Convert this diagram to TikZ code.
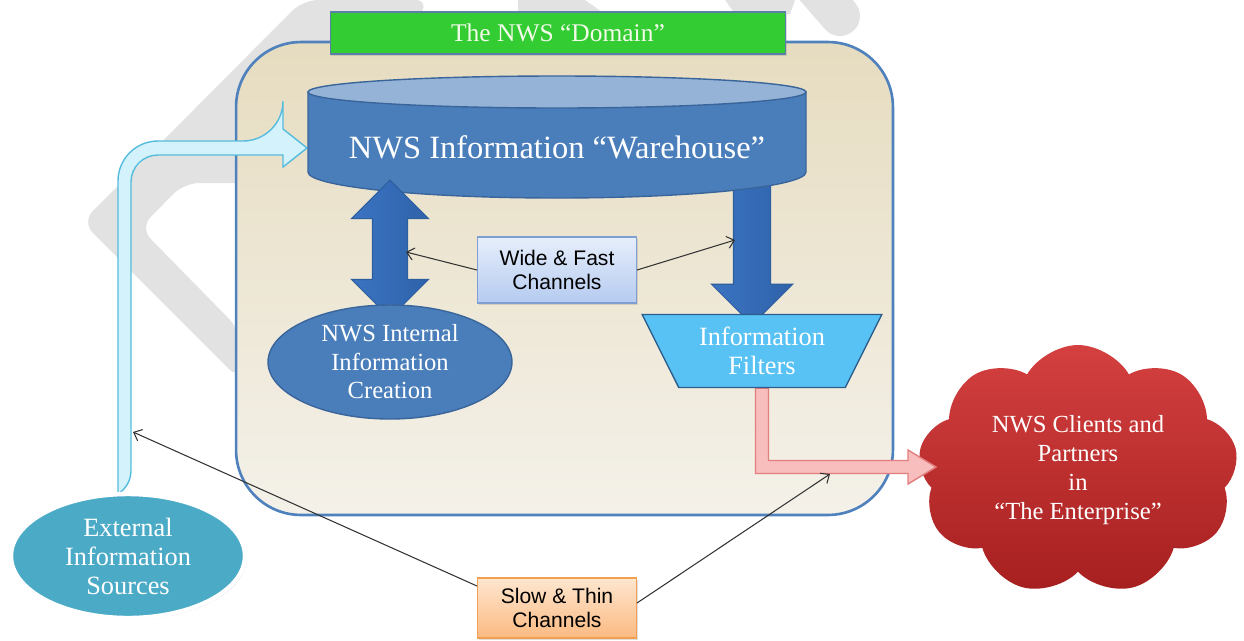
\documentclass[tikz,border=0pt]{standalone}
\usepackage{fontspec}
\setmainfont{Liberation Serif}
\setsansfont{Liberation Sans}
\usetikzlibrary{shapes.geometric,shapes.arrows,shapes.symbols,arrows.meta,calc,shadows}
\definecolor{wm}{HTML}{E2E2E2}
\definecolor{dboxTop}{HTML}{E6DCC0}
\definecolor{dboxBot}{HTML}{F4F1E9}
\definecolor{dboxLine}{HTML}{4F81BD}
\definecolor{domGreen}{HTML}{33CC33}
\definecolor{domLine}{HTML}{5B7FA8}
\definecolor{domText}{HTML}{F2FAE8}
\definecolor{cylBody}{HTML}{4A7EBB}
\definecolor{cylTop}{HTML}{95B3D7}
\definecolor{cylLine}{HTML}{3A659B}
\definecolor{arrLight}{HTML}{6A9FE2}
\definecolor{arrMid}{HTML}{3C74C2}
\definecolor{arrDark}{HTML}{2E62AA}
\definecolor{arrLine}{HTML}{2D5E9E}
\definecolor{wfTop}{HTML}{E6EEFB}
\definecolor{wfBot}{HTML}{B5CBF0}
\definecolor{wfLine}{HTML}{7F9FD2}
\definecolor{filtFill}{HTML}{58C2F5}
\definecolor{filtLine}{HTML}{2E5C8C}
\definecolor{redTop}{HTML}{D44040}
\definecolor{redBot}{HTML}{A61F1F}
\definecolor{extFill}{HTML}{4BAAC6}
\definecolor{stTop}{HTML}{FEE6CF}
\definecolor{stBot}{HTML}{FBBA82}
\definecolor{stLine}{HTML}{F0A050}
\definecolor{cyanFill}{HTML}{D3F2FB}
\definecolor{cyanLine}{HTML}{56BCDD}
\definecolor{pinkFill}{HTML}{F8BDBD}
\definecolor{pinkLine}{HTML}{E37E7E}
\definecolor{thinCol}{HTML}{333333}
\pgfdeclarelayer{bg}
\pgfdeclarelayer{mid}
\pgfsetlayers{bg,mid,main}
\begin{document}
\begin{tikzpicture}[x=0.02cm,y=-0.02cm,
  whitetext/.style={text=white, align=center, inner sep=0pt},
  softshadow/.style={drop shadow={opacity=0.25, shadow xshift=0.8pt, shadow yshift=-1.2pt}},
  dboxst/.style={draw=dboxLine, line width=1.5pt, rounded corners=1.3cm,
    top color=dboxTop, bottom color=dboxBot, minimum width=13.14cm, minimum height=9.46cm},
  domst/.style={fill=domGreen, draw=domLine, line width=0.6pt, minimum width=9.12cm,
    minimum height=0.84cm, text=domText, font=\fontsize{14.5pt}{16pt}\selectfont, softshadow},
  blockarr/.style={draw=arrLine, line width=0.6pt, inner xsep=0pt, left color=arrMid,
    middle color=arrLight, right color=arrDark},
  boxsans/.style={minimum width=3.18cm, align=center, inner sep=0pt,
    font=\sffamily\fontsize{12pt}{13.5pt}\selectfont, softshadow},
  thinarr/.style={draw=thinCol, line width=0.6pt, -{Straight Barb[length=4pt,width=7pt]}},
  cyanst/.style={fill=cyanFill, draw=cyanLine, line width=0.8pt},
  pinkst/.style={fill=pinkFill, draw=pinkLine, line width=0.8pt}]
\useasboundingbox (0,0) rectangle (1244,640);

% ---- background: watermark, domain box, cloud
\begin{pgfonlayer}{bg}
\fill[wm, rounded corners=0.3cm] (303,0) -- (430,0) -- (300,183) -- (184,183) -- (140,228)
   -- (240,330) -- (240,380) -- (82,222) -- cycle;
\fill[wm] (518,0) -- (585,0) -- (605,14) -- (518,14) -- cycle;
\fill[wm] (725,0) -- (795,0) -- (790,14) -- (735,14) -- cycle;
\draw[wm, line width=0.8cm, line cap=round] (800,-30) -- (840,16);
\node[dboxst] (dbox) at (564.5,278.5) {};
\node[cloud, cloud puffs=9, cloud puff arc=120, aspect=1.3, minimum width=6.4cm,
  minimum height=5cm, inner sep=0pt, top color=redTop, bottom color=redBot,
  text=white, align=center, font=\fontsize{14pt}{16.5pt}\selectfont] (cl) at (1078,470)
  {NWS Clients and\\Partners\\in\\“The Enterprise”};
\end{pgfonlayer}

% ---- named free ends
\coordinate (bt) at (307,148);
\coordinate (pt) at (936,467);
\coordinate (wfL) at (406,252);
\coordinate (wfR) at (735,240);
\coordinate (stL) at (133,432);
\coordinate (stR) at (830,474);

% ---- domain label
\node[domst] (dom) at (558,33) {The NWS “Domain”};

% ---- down arrow (under the cylinder)
\node[blockarr, shape=single arrow, rotate=-90, minimum height=2.82cm, minimum width=1.6cm,
  inner ysep=0.36cm, single arrow head extend=0.44cm] (dn) at (752,245) {};

% ---- warehouse cylinder
\fill[cylBody, draw=cylLine, line width=0.8pt] (308,92) -- (308,172)
  arc[start angle=180, end angle=0, x radius=249, y radius=26] -- (806,92) -- cycle;
\filldraw[fill=cylTop, draw=cylLine, line width=0.8pt] (557,92) ellipse [x radius=249, y radius=16];
\node[whitetext, font=\fontsize{18.5pt}{21pt}\selectfont] (wh) at (557,147)
  {NWS Information “Warehouse”};

% ---- double arrow
\node[blockarr, shape=double arrow, rotate=90, minimum height=2.76cm, minimum width=1.52cm,
  inner ysep=0.34cm, double arrow head extend=0.42cm] (dbl) at (390,249) {};

% ---- wide & fast
\node[boxsans, minimum height=1.32cm, draw=wfLine, line width=0.6pt, top color=wfTop,
  bottom color=wfBot] (wf) at (557,270) {Wide \& Fast\\Channels};

% ---- internal creation
\node[ellipse, fill=cylBody, draw=cylLine, line width=0.8pt, minimum width=4.88cm,
  minimum height=2.28cm, whitetext, font=\fontsize{14pt}{16.2pt}\selectfont] (int) at (390,362)
  {NWS Internal\\Information\\Creation};

% ---- filters
\node[trapezium, shape border rotate=180, trapezium angle=60, trapezium stretches=true,
  minimum width=4.8cm, minimum height=1.46cm, fill=filtFill, draw=filtLine, line width=0.8pt,
  whitetext, font=\fontsize{15pt}{16.5pt}\selectfont] (filt) at (762,351)
  {Information\\Filters};

% ---- external sources
\node[ellipse, fill=extFill, draw=white, line width=2.5pt, minimum width=4.68cm,
  minimum height=2.48cm, whitetext, font=\fontsize{15pt}{16.5pt}\selectfont,
  drop shadow={opacity=0.3, shadow xshift=1pt, shadow yshift=-1pt}] (ext) at (128,556)
  {External\\Information\\Sources};

% ---- slow & thin
\node[boxsans, minimum height=1.2cm, draw=stLine, line width=0.6pt, top color=stTop,
  bottom color=stBot] (st) at (557,608) {Slow \& Thin\\Channels};

% ---- thick connectors
\begin{pgfonlayer}{mid}
\filldraw[cyanst] ($(ext.north)+(-10,6)$) [rounded corners=0.8cm] |- ($(bt)+(-24,-7)$)
  [sharp corners] -- ++(0,-12) -- (bt) -- ++(-24,19) -- ++(0,-12)
  [rounded corners=0.54cm] -| ($(ext.north)+(3,6)$) [sharp corners] -- cycle;
\filldraw[pinkst] ($(filt.south)+(-6.5,0)$) |- ($(pt)+(-28,6.5)$) -- ++(0,10.5) -- (pt)
  -- ++(-28,-17) -- ++(0,10.5) -| ($(filt.south)+(6.5,0)$) -- cycle;
\end{pgfonlayer}

% ---- thin connectors
\draw[thinarr] (wf.west) -- (wfL);
\draw[thinarr] (wf.east) -- (wfR);
\draw[thinarr] ($(st.west)+(0,-22)$) -- (stL);
\draw[thinarr] ($(st.east)+(0,-5)$) -- (stR);
\end{tikzpicture}
\end{document}
